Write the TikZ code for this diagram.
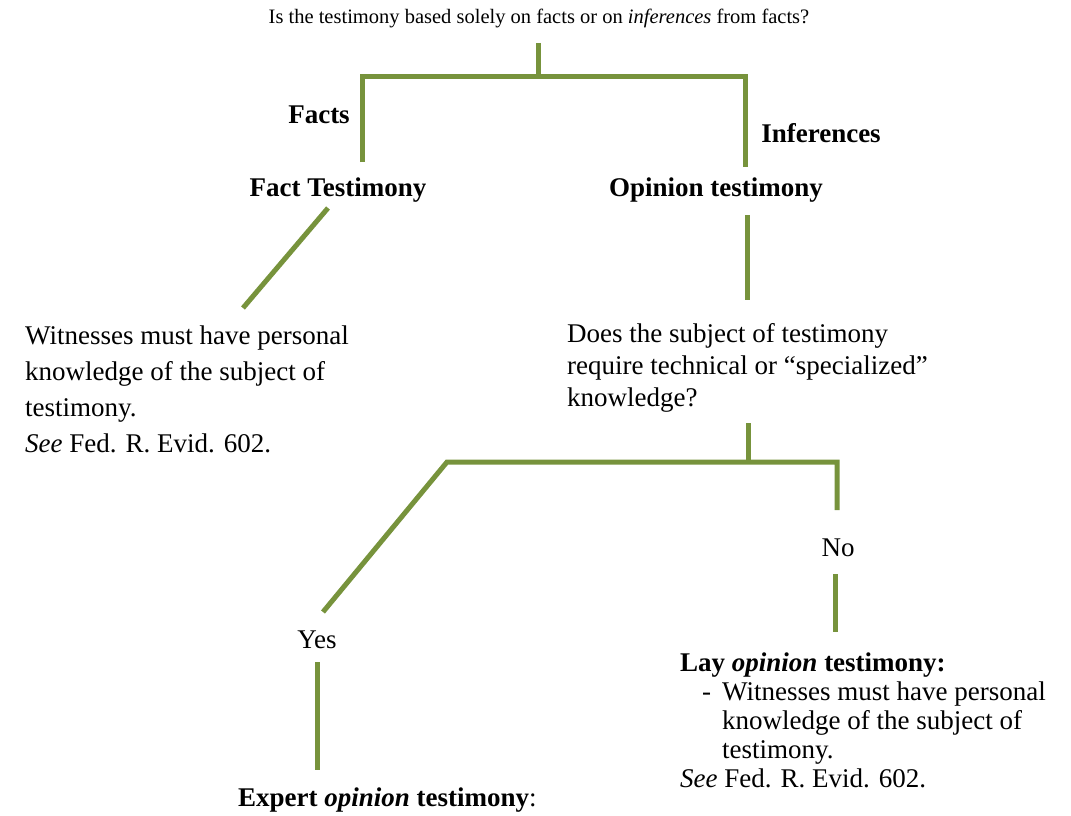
\documentclass[tikz,border=0pt]{standalone}
\usepackage{fontspec}
\setmainfont{Liberation Serif}
\definecolor{branch}{RGB}{119,147,60}

\begin{document}
\begin{tikzpicture}[x=1pt,y=-1pt,
  txt/.style={inner sep=0pt,font=\fontsize{27}{36}\selectfont},
  head/.style={txt,font=\fontsize{27}{36}\selectfont\bfseries},
  block/.style={txt,align=left,anchor=north west},
  branch line/.style={draw=branch,line width=5pt}]

\useasboundingbox (0,0) rectangle (1071,816);

\begin{scope}
\node[txt,font=\fontsize{20.5}{24}\selectfont] (question) at (539,18) {Is the testimony based solely on facts or on \textit{inferences} from facts?};

\node[head] (facts) at (319,115) {Facts};
\node[head] (inferences) at (821,133) {Inferences};
\node[head] (fact) at (338,190) {Fact Testimony};
\node[head] (opinion) at (716,190) {Opinion testimony};

\node[block] (personal) at (25,325.5) {Witnesses must have personal\\knowledge of the subject of\\testimony.\\\textit{See} Fed. R. Evid. 602.};

\node[block,font=\fontsize{27}{32}\selectfont] (subject) at (567,323.5) {Does the subject of testimony\\require technical or ``specialized''\\knowledge?};

\node[txt] (no) at (838,548) {No};
\node[txt] (yes) at (317,640) {Yes};

\node[block,font=\fontsize{27}{29}\selectfont] (lay) at (680,652.5) {\textbf{Lay \textit{opinion} testimony:}\\
\hspace*{22pt}\makebox[20pt][l]{-}Witnesses must have personal\\
\hspace*{42pt}knowledge of the subject of\\
\hspace*{42pt}testimony.\\
\textit{See} Fed. R. Evid. 602.};

\node[txt,anchor=west] (expert) at (238,800) {\textbf{Expert \textit{opinion} testimony}:};
\end{scope}

% facts or inferences
\coordinate (q1) at (538,43);
\coordinate (q2) at (538,77);
\coordinate (fa1) at (362,162);
\coordinate (fa2) at (362,77);
\coordinate (in1) at (745,77);
\coordinate (in2) at (745,167);
\draw[branch line] (q1) -- (q2);
\draw[branch line] (fa1) -- (fa2) -- (in1) -- (in2);

\coordinate (ft1) at (328,208);
\coordinate (ft2) at (243,308);
\draw[branch line] (ft1) -- (ft2);

\coordinate (op1) at (747,215);
\coordinate (op2) at (747,300);
\draw[branch line] (op1) -- (op2);

% yes or no
\coordinate (s1) at (748,423);
\coordinate (s2) at (748,462);
\coordinate (y1) at (323,612);
\coordinate (y2) at (447,462);
\coordinate (n1) at (837,462);
\coordinate (n2) at (837,510);
\draw[branch line] (s1) -- (s2);
\draw[branch line] (y1) -- (y2) -- (n1) -- (n2);

\coordinate (n3) at (835,574);
\coordinate (n4) at (835,632);
\draw[branch line] (n3) -- (n4);

\coordinate (y3) at (317,662);
\coordinate (y4) at (317,770);
\draw[branch line] (y3) -- (y4);

\end{tikzpicture}
\end{document}
